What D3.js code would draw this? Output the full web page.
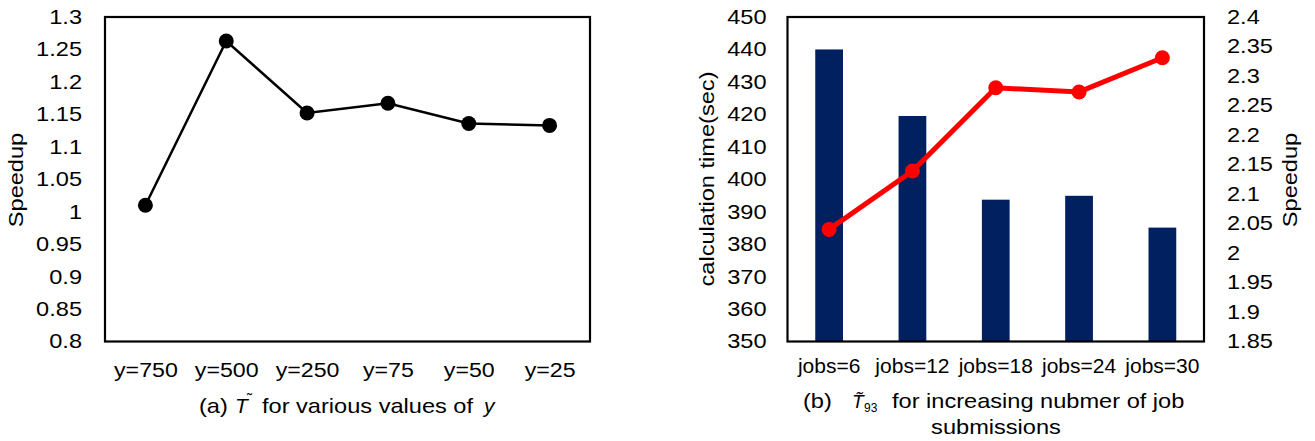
<!DOCTYPE html>
<html><head><meta charset="utf-8">
<script src="https://cdn.jsdelivr.net/npm/d3@7"></script>
<style>body{margin:0;background:#fff}svg{display:block}text{font-family:"Liberation Sans",Arial,sans-serif;fill:#000}</style>
</head><body>
<svg id="c" width="1315" height="441"></svg>
<script>
// Chart (a)
const catsA = ["y=750","y=500","y=250","y=75","y=50","y=25"];
const speedA = [1.01,1.263,1.152,1.167,1.136,1.133];
const ticksA = [0.8,0.85,0.9,0.95,1,1.05,1.1,1.15,1.2,1.25,1.3];
// Chart (b)
const catsB = ["jobs=6","jobs=12","jobs=18","jobs=24","jobs=30"];
const timeB = [440,419.5,393.7,394.9,385.1];
const speedB = [2.04,2.139,2.28,2.273,2.331];
const ticksBL = [350,360,370,380,390,400,410,420,430,440,450];
const ticksBR = [1.85,1.9,1.95,2,2.05,2.1,2.15,2.2,2.25,2.3,2.35,2.4];

const svg = d3.select("#c");
const FS = 20, SX = 1.18;
const pTop = 17, pBot = 341.5;
const FONT = "Liberation Sans, Arial, sans-serif";

function stretch(sel, s){
  const k = s || SX;
  sel.each(function(){
    const ax = +(this.getAttribute("x") || 0);
    this.setAttribute("transform", `translate(${ax},0) scale(${k},1) translate(${-ax},0)`);
  });
}
function styleAxis(g, s){
  g.select(".domain").remove();
  g.selectAll("text").attr("font-size",FS).attr("font-family",FONT).attr("fill","#000");
  stretch(g.selectAll("text"), s);
}

// ---------- (a) ----------
const aL = 105, aR = 590;
const xA = d3.scalePoint().domain(catsA).range([aL, aR]).padding(0.5);
const yA = d3.scaleLinear().domain([0.8,1.3]).range([pBot, pTop]);
const gA = svg.append("g");
gA.append("rect").attr("x",aL).attr("y",pTop).attr("width",aR-aL).attr("height",pBot-pTop)
  .attr("fill","none").attr("stroke","#000").attr("stroke-width",2.2);
styleAxis(gA.append("g").attr("transform",`translate(${aL},0)`)
  .call(d3.axisLeft(yA).tickValues(ticksA).tickSize(0).tickPadding(23).tickFormat(d=>String(d))));
styleAxis(gA.append("g").attr("transform",`translate(0,${pBot})`)
  .call(d3.axisBottom(xA).tickSize(0).tickPadding(21)), 1.16);
gA.append("path").datum(speedA)
  .attr("d", d3.line().x((d,i)=>xA(catsA[i])).y(d=>yA(d)))
  .attr("fill","none").attr("stroke","#000").attr("stroke-width",2.5);
gA.selectAll("circle").data(speedA).join("circle")
  .attr("cx",(d,i)=>xA(catsA[i])).attr("cy",d=>yA(d)).attr("r",7.5).attr("fill","#000");
stretch(gA.append("g").attr("transform",`translate(23,180) rotate(-90)`)
  .append("text").attr("text-anchor","middle").attr("font-size",FS).text("Speedup"));
// caption (a)
const capAy = 413;
stretch(gA.append("text").attr("x",199).attr("y",capAy).attr("font-size",FS).text("(a)"));
gA.append("text").attr("x",235).attr("y",capAy).attr("font-size",21)
  .attr("font-family","DejaVu Serif, serif").attr("font-style","italic").text("T");
gA.append("text").attr("x",247).attr("y",capAy-9).attr("font-size",15)
  .attr("font-family","DejaVu Serif, serif").text("\u02DC");
stretch(gA.append("text").attr("x",262).attr("y",capAy).attr("font-size",FS).text("for various values of"));
gA.append("text").attr("x",484).attr("y",capAy).attr("font-size",21)
  .attr("font-family","DejaVu Serif, serif").attr("font-style","italic").text("y");

// ---------- (b) ----------
const bL = 787.5, bR = 1204;
const xB = d3.scaleBand().domain(catsB).range([bL, bR]).paddingInner(0.667).paddingOuter(0.333);
const xBc = d => xB(d) + xB.bandwidth()/2;
const yBL = d3.scaleLinear().domain([350,450]).range([pBot, pTop]);
const yBR = d3.scaleLinear().domain([1.85,2.4]).range([pBot, pTop]);
const gB = svg.append("g");
gB.selectAll("rect.bar").data(timeB).join("rect").attr("class","bar")
  .attr("x",(d,i)=>xB(catsB[i])).attr("width",xB.bandwidth())
  .attr("y",d=>yBL(d)).attr("height",d=>pBot-yBL(d)).attr("fill","#002060");
gB.append("rect").attr("x",bL).attr("y",pTop).attr("width",bR-bL).attr("height",pBot-pTop)
  .attr("fill","none").attr("stroke","#000").attr("stroke-width",2.2);
styleAxis(gB.append("g").attr("transform",`translate(${bL},0)`)
  .call(d3.axisLeft(yBL).tickValues(ticksBL).tickSize(0).tickPadding(21)));
styleAxis(gB.append("g").attr("transform",`translate(${bR},0)`)
  .call(d3.axisRight(yBR).tickValues(ticksBR).tickSize(0).tickPadding(23).tickFormat(d=>String(d))));
styleAxis(gB.append("g").attr("transform",`translate(0,${pBot})`)
  .call(d3.axisBottom(xB).tickSize(0).tickPadding(17)), 1.05);
gB.append("path").datum(speedB)
  .attr("d", d3.line().x((d,i)=>xBc(catsB[i])).y(d=>yBR(d)))
  .attr("fill","none").attr("stroke","#ff0000").attr("stroke-width",5);
gB.selectAll("circle").data(speedB).join("circle")
  .attr("cx",(d,i)=>xBc(catsB[i])).attr("cy",d=>yBR(d)).attr("r",7.5).attr("fill","#ff0000");
stretch(gB.append("g").attr("transform",`translate(714,179) rotate(-90)`)
  .append("text").attr("text-anchor","middle").attr("font-size",FS).text("calculation time(sec)"));
stretch(gB.append("g").attr("transform",`translate(1297,180) rotate(-90)`)
  .append("text").attr("text-anchor","middle").attr("font-size",FS).text("Speedup"));
// caption (b)
const capBy = 408;
stretch(gB.append("text").attr("x",803).attr("y",capBy).attr("font-size",FS).text("(b)"));
gB.append("text").attr("x",852).attr("y",capBy).attr("font-size",19)
  .attr("font-family","DejaVu Serif, serif").attr("font-style","italic").attr("fill","#34507f").text("T\u0303");
gB.append("text").attr("x",864).attr("y",capBy+4).attr("font-size",12)
  .attr("font-family","DejaVu Sans, sans-serif").attr("fill","#34507f").text("93");
stretch(gB.append("text").attr("x",892).attr("y",capBy).attr("font-size",FS).text("for increasing nubmer of job"));
stretch(gB.append("text").attr("x",996).attr("y",434).attr("text-anchor","middle").attr("font-size",FS).text("submissions"));
</script>
</body></html>
